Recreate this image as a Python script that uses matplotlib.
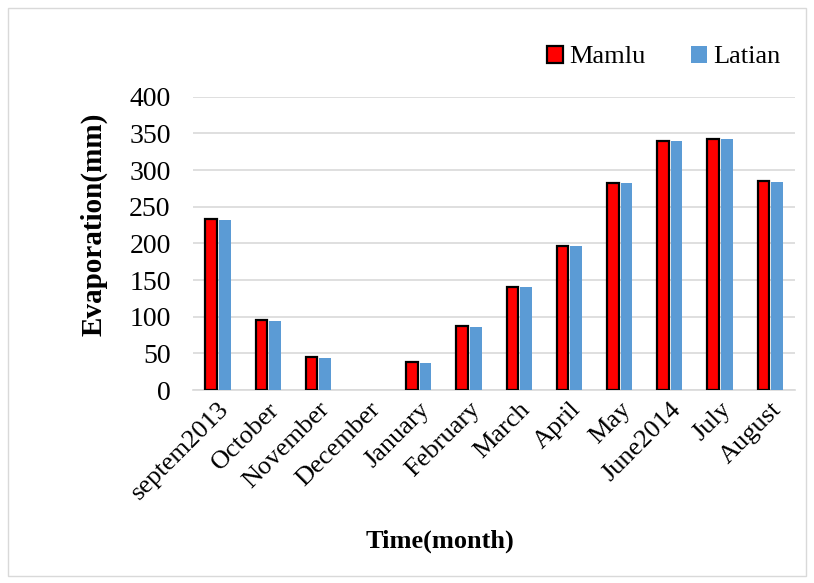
import matplotlib.pyplot as plt
import numpy as np
from matplotlib.patches import Rectangle

plt.rcParams['font.family'] = ['Liberation Serif', 'DejaVu Serif']

# Monthly evaporation at the two stations
months = ["septem2013", "October", "November", "December", "January", "February",
          "March", "April", "May", "June2014", "July", "August"]
mamlu = [233, 95, 45, 0, 38, 87, 141, 197, 283, 340, 343, 285]
latian = [232, 94, 44, 0, 37, 86, 140, 196, 282, 339, 342, 284]

fig = plt.figure(figsize=(8.14, 5.83), dpi=100)
ax = fig.add_axes([0.237, 0.331, 0.74, 0.503])

x = np.arange(len(months))
w = 0.23
# no outline on empty months
edge_w = [1.6 if v > 0 else 0 for v in mamlu]
ax.bar(x - 0.135, mamlu, w, color='#ff0000', edgecolor='black', linewidth=edge_w,
       label='Mamlu', zorder=3)
ax.bar(x + 0.135, latian, w, color='#5b9bd5', label='Latian', zorder=3)

ax.set_xlim(-0.5, len(months) - 0.5)
ax.set_ylim(0, 400)
ax.set_yticks(range(0, 401, 50))
ax.yaxis.grid(True, color='#d9d9d9', linewidth=1.2)
ax.set_axisbelow(True)
for s in ['top', 'right', 'left']:
    ax.spines[s].set_visible(False)
ax.spines['bottom'].set_color('#d9d9d9')
ax.spines['bottom'].set_linewidth(1.2)
ax.tick_params(axis='y', length=0, labelsize=20, pad=16)
ax.tick_params(axis='x', length=0, labelsize=19, pad=6)
ax.set_xticks(x)
ax.set_xticklabels(months, rotation=45, ha='right', rotation_mode='anchor')

fig.text(0.115, 0.615, 'Evaporation(mm)', fontsize=21, fontweight='bold',
         rotation=90, ha='center', va='center')
fig.text(0.54, 0.06, 'Time(month)', fontsize=19, fontweight='bold', ha='center')

ax.legend(loc='upper right', bbox_to_anchor=(1.015, 1.255), ncol=2, frameon=False,
          fontsize=19, handlelength=0.6, handleheight=0.6, handletextpad=0.25,
          columnspacing=1.7)

# chart border
fig.patches.append(Rectangle((0.01, 0.012), 0.98, 0.975, transform=fig.transFigure,
                             fill=False, edgecolor='#d9d9d9', linewidth=1))

fig.savefig('out.png', dpi=100)
